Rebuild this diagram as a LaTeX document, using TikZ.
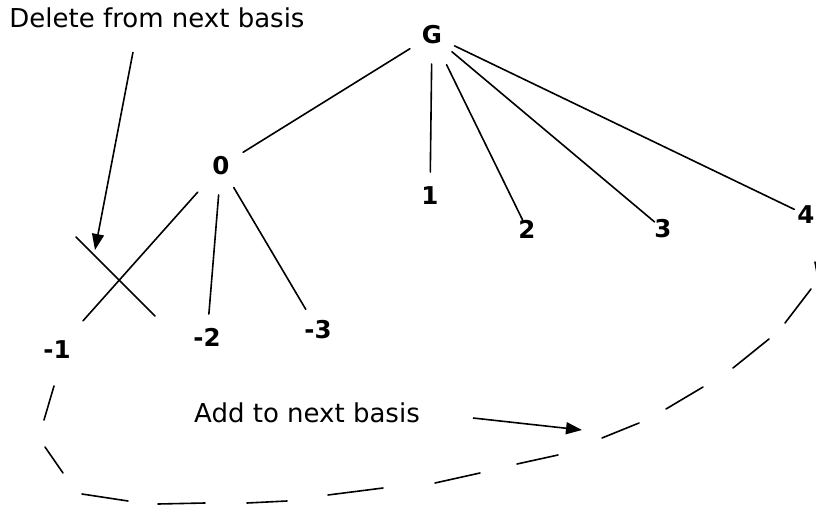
\documentclass[tikz,border=0pt]{standalone}
\usepackage{fontspec}
\setmainfont{DejaVu Sans}
\usetikzlibrary{arrows.meta}
\begin{document}
\begin{tikzpicture}[x=1pt,y=-1pt,
  line width=1.6pt,
  lbl/.style={font=\fontsize{24.5}{25}\selectfont\bfseries, inner sep=0pt},
  note/.style={font=\fontsize{26}{26}\selectfont, inner sep=0pt},
  tree/.style={line cap=round},
  pointer/.style={-{Triangle[length=16pt,width=12pt]}},
  gapdash/.style={line cap=round}]
\useasboundingbox (0,0) rectangle (816,508);
\begin{scope}
\clip (0,0) rectangle (816,508);

% tree labels
\node[lbl] (G)  at (432,35)  {G};
\node[lbl] (z)  at (221,166) {0};
\node[lbl] (p1) at (430,196) {1};
\node[lbl] (p2) at (527,229) {2};
\node[lbl] (p3) at (663,229) {3};
\node[lbl] (p4) at (806,215) {4};
\node[lbl] (m1) at (57,350)  {-1};
\node[lbl] (m2) at (207,337) {-2};
\node[lbl] (m3) at (318,330) {-3};

% edges from the root
\draw[tree, shorten <=26pt, shorten >=26pt] (G.center) -- (z.center);
\draw[tree, shorten <=29pt, shorten >=24pt] (G.center) -- (p1.center);
\draw[tree, shorten <=33pt, shorten >=9pt]  (G.center) -- (p2.center);
\draw[tree, shorten <=26pt, shorten >=11pt] (G.center) -- (p3.center);
\draw[tree, shorten <=25pt, shorten >=13pt] (G.center) -- (p4.center);

% edges below 0
\draw[tree, shorten <=35pt, shorten >=39pt] (z.center) -- (m1.center);
\draw[tree, shorten <=29pt, shorten >=23pt] (z.center) -- (m2.center);
\draw[tree, shorten <=25pt, shorten >=24pt] (z.center) -- (m3.center);

% crossing stroke marking the deleted edge
\coordinate (xa) at (76,237);
\coordinate (xb) at (155,316);
\draw[tree] (xa) -- (xb);

% annotations
\node[note, anchor=base] (del) at (157,28) {Delete from next basis};
\coordinate (dfrom) at (133,52);
\coordinate (dto)   at (95,250);
\draw[pointer] (dfrom) -- (dto);

\node[note, anchor=base] (add) at (307,422) {Add to next basis};
\coordinate (afrom) at (473,418);
\coordinate (ato)   at (582,430);
\draw[pointer] (afrom) -- (ato);

% hand-drawn dashed loop around the new basis
\foreach \a/\b in {
  {(815,262)}/{(818,278)},
  {(811,289)}/{(785,323)},
  {(769,339)}/{(733,368)},
  {(703,387)}/{(666,409)},
  {(639,423)}/{(602,438)},
  {(558,455)}/{(517,464)},
  {(480,473)}/{(435,483)},
  {(383,488)}/{(328,495)},
  {(287,501)}/{(247,503)},
  {(205,503)}/{(158,504)},
  {(128,501)}/{(82,494)},
  {(63,473)}/{(45,447)},
  {(44,420)}/{(54,386)}}
  \draw[gapdash] \a -- \b;
\end{scope}
\end{tikzpicture}
\end{document}
